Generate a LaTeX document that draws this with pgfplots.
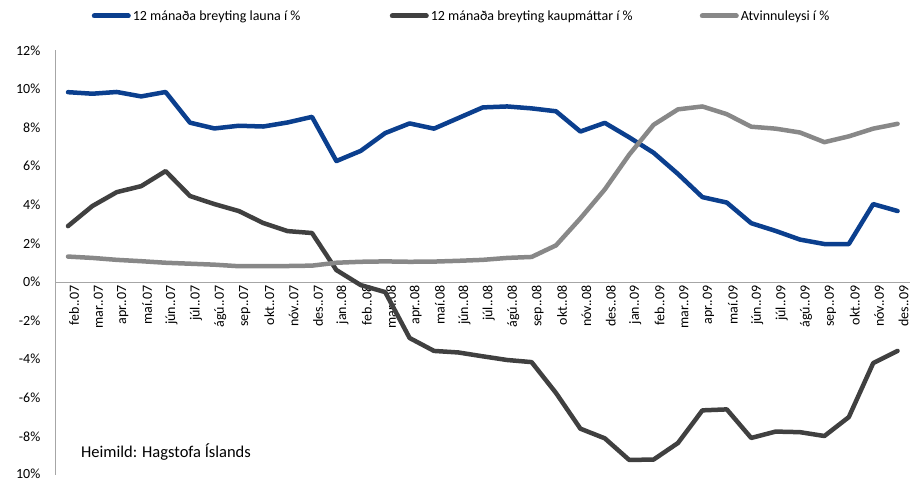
\documentclass[border=0pt]{standalone}
\usepackage{pgfplots}
\pgfplotsset{compat=1.18}
\usepackage{fontspec}
\setmainfont{Carlito}
\definecolor{cblue}{HTML}{0B3F8E}
\definecolor{cdark}{HTML}{404040}
\definecolor{cgray}{HTML}{888888}
\definecolor{caxis}{HTML}{A6A6A6}
\begin{document}
\begin{tikzpicture}[x=1pt,y=1pt]
\path[use as bounding box] (0,0) rectangle (912,481);
\begin{axis}[
  at={(55.8pt,6pt)}, anchor=south west,
  scale only axis, width=854pt, height=424.5pt,
  xmin=-0.5, xmax=34.5, ymin=-10, ymax=12,
  axis x line=middle, axis y line=left,
  axis line style={-, draw=caxis, line width=0.9pt},
  xtick={0,...,34},
  xticklabels={feb..07,mar..07,apr..07,maí.07,jún..07,júl..07,ágú..07,sep..07,okt..07,nóv..07,des..07,jan..08,feb..08,mar..08,apr..08,maí.08,jún..08,júl..08,ágú..08,sep..08,okt..08,nóv..08,des..08,jan..09,feb..09,mar..09,apr..09,maí.09,jún..09,júl..09,ágú..09,sep..09,okt..09,nóv..09,des..09},
  ytick={-10,-8,...,12},
  yticklabels={\raisebox{2.5pt}{10\%},-8\%,-6\%,-4\%,-2\%,0\%,2\%,4\%,6\%,8\%,10\%,12\%},
  major tick length=0pt,
  tick label style={font=\fontsize{14}{16}\selectfont, text=black},
  xticklabel style={rotate=90, anchor=east, xshift=0pt, yshift=-6pt},
  yticklabel style={anchor=east, xshift=-12pt},
  clip=false,
  legend columns=3,
  legend style={draw=none, fill=none, at={(axis description cs:0,1)}, anchor=west, xshift=36pt, yshift=34.5pt, inner sep=0pt, outer sep=0pt, font=\fontsize{14}{16}\selectfont, /tikz/every even column/.append style={column sep=0pt}},
  legend image code/.code={\draw[#1, line width=5pt, line cap=round] (0pt,0pt) -- (34pt,0pt);},
  every axis plot/.append style={line width=4.5pt, line join=round, line cap=round, mark=none},
]
\addplot[cblue] coordinates {
(0,9.84)(1,9.76)(2,9.85)(3,9.62)(4,9.85)(5,8.26)(6,7.96)(7,8.1)(8,8.06)(9,8.27)(10,8.56)
(11,6.27)(12,6.8)(13,7.72)(14,8.22)(15,7.95)(16,8.5)(17,9.05)(18,9.1)(19,9.0)(20,8.85)(21,7.8)(22,8.25)
(23,7.5)(24,6.7)(25,5.6)(26,4.4)(27,4.12)(28,3.05)(29,2.65)(30,2.2)(31,1.97)(32,1.97)(33,4.04)(34,3.68)};
\addlegendentry{\makebox[255pt][l]{12 mánaða breyting launa í \%}}
\addplot[cdark] coordinates {
(0,2.9)(1,3.94)(2,4.66)(3,4.97)(4,5.75)(5,4.46)(6,4.04)(7,3.68)(8,3.06)(9,2.64)(10,2.54)
(11,0.62)(12,-0.16)(13,-0.52)(14,-2.9)(15,-3.57)(16,-3.65)(17,-3.85)(18,-4.04)(19,-4.15)(20,-5.75)(21,-7.6)(22,-8.1)
(23,-9.22)(24,-9.2)(25,-8.34)(26,-6.65)(27,-6.6)(28,-8.08)(29,-7.75)(30,-7.78)(31,-7.98)(32,-7.0)(33,-4.2)(34,-3.57)};
\addlegendentry{\makebox[267pt][l]{12 mánaða breyting kaupmáttar í \%}}
\addplot[cgray] coordinates {
(0,1.32)(1,1.25)(2,1.15)(3,1.08)(4,1.0)(5,0.95)(6,0.9)(7,0.82)(8,0.82)(9,0.83)(10,0.85)
(11,1.0)(12,1.05)(13,1.07)(14,1.05)(15,1.06)(16,1.1)(17,1.15)(18,1.25)(19,1.3)(20,1.9)(21,3.3)(22,4.8)
(23,6.6)(24,8.15)(25,8.95)(26,9.1)(27,8.7)(28,8.05)(29,7.95)(30,7.75)(31,7.25)(32,7.55)(33,7.95)(34,8.2)};
\addlegendentry{Atvinnuleysi í \%}
\node[anchor=west, font=\fontsize{16.5}{18}\selectfont] at (axis description cs:0.0255,0.053) {Heimild: Hagstofa Íslands};
\end{axis}
\end{tikzpicture}
\end{document}
